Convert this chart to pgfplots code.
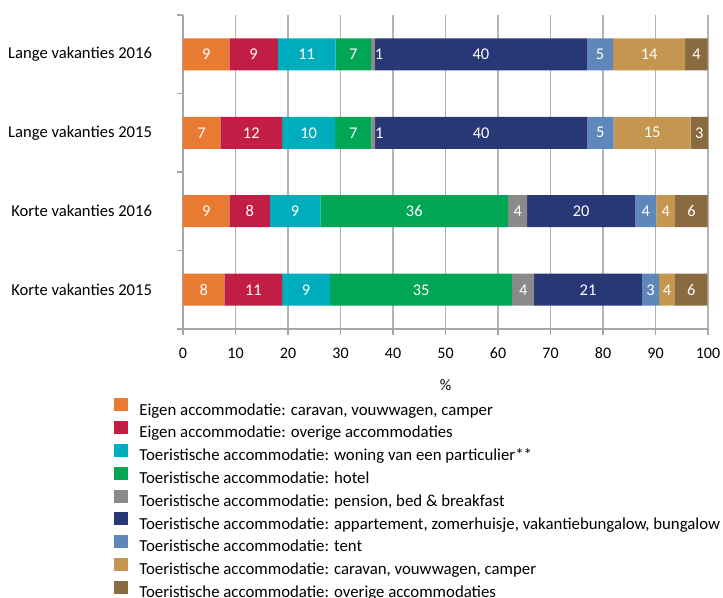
\documentclass[border=0pt]{standalone}
\usepackage{pgfplots}
\pgfplotsset{compat=1.18}
\usepackage{fontspec}
\setmainfont{Carlito}
\definecolor{c1}{HTML}{E97A31}
\definecolor{c2}{HTML}{C21E45}
\definecolor{c3}{HTML}{00ADBC}
\definecolor{c4}{HTML}{00A654}
\definecolor{c5}{HTML}{8A8A8A}
\definecolor{c6}{HTML}{283776}
\definecolor{c7}{HTML}{5F87BA}
\definecolor{c8}{HTML}{C4964F}
\definecolor{c9}{HTML}{8A6A3F}
\definecolor{axgray}{HTML}{A6A6A6}
\definecolor{gridgray}{HTML}{B4B4B4}
\pgfplotsset{sq/.style={fill=#1, draw=none, legend image code/.code={\fill[#1] (0pt,-0.3pt) rectangle (7pt,6.2pt);}}}
\begin{document}
\begin{tikzpicture}
\useasboundingbox (-91.5pt,-134.5pt) rectangle (270pt,164.5pt);
\begin{axis}[
  at={(0,0)}, anchor=south west,
  scale only axis, width=262.5pt, height=157pt,
  xbar stacked, bar width=16pt,
  xmin=0, xmax=100, ymin=-0.5, ymax=3.5,
  xtick={0,10,...,100},
  ytick={-0.5,0.5,1.5,2.5,3.5}, yticklabels={},
  extra y ticks={0,1,2,3},
  extra y tick labels={Korte vakanties 2015, Korte vakanties 2016, Lange vakanties 2015, Lange vakanties 2016},
  extra y tick style={major tick length=0pt, yticklabel style={font=\fontsize{8.3}{10}\selectfont, xshift=-12pt, text=black}},
  axis x line*=bottom, axis y line*=left,
  axis line style={draw=axgray, line width=0.7pt},
  tick style={draw=axgray, line width=0.7pt},
  major tick length=3pt, tick align=outside,
  xmajorgrids, major grid style={draw=gridgray, line width=0.7pt},
  xticklabel style={font=\fontsize{8}{9}\selectfont, yshift=-3pt, text=black},
  /pgf/number format/assume math mode=true,
  xlabel={\%},
  xlabel style={at={(axis description cs:0.5,0)}, anchor=center, yshift=-28pt, font=\fontsize{8}{9}\selectfont},
  nodes near coords, point meta=explicit symbolic,
  visualization depends on={rawx \as \rawx},
  every node near coord/.append style={anchor=center, xshift={(\rawx<1)*3pt}, text=white, font=\fontsize{8.2}{9}\selectfont},
  legend cell align=left,
  legend style={at={(axis description cs:-0.1314,-0.2196)}, anchor=north west, draw=none, fill=none, inner sep=0pt,
    font=\fontsize{8.4}{9.6}\selectfont, row sep=1.4pt,
    nodes={inner sep=0pt, text height=6pt, text depth=1.6pt, anchor=west},
    /tikz/every odd column/.append style={column sep=5.5pt}},
]
\addplot[sq=c1] coordinates {(7.9,0)[8] (8.85,1)[9] (7.1,2)[7] (8.85,3)[9]};
\addplot[sq=c2] coordinates {(11.0,0)[11] (7.7,1)[8] (11.8,2)[12] (9.2,3)[9]};
\addplot[sq=c3] coordinates {(9.1,0)[9] (9.6,1)[9] (10.1,2)[10] (11.0,3)[11]};
\addplot[sq=c4] coordinates {(34.7,0)[35] (35.8,1)[36] (6.9,2)[7] (6.8,3)[7]};
\addplot[sq=c5] coordinates {(4.2,0)[4] (3.6,1)[4] (0.7,2)[1] (0.7,3)[1]};
\addplot[sq=c6] coordinates {(20.5,0)[21] (20.6,1)[20] (40.4,2)[40] (40.4,3)[40]};
\addplot[sq=c7] coordinates {(3.3,0)[3] (4.0,1)[4] (5.0,2)[5] (5.0,3)[5]};
\addplot[sq=c8] coordinates {(3.0,0)[4] (3.6,1)[4] (14.7,2)[15] (13.7,3)[14]};
\addplot[sq=c9] coordinates {(6.2,0)[6] (6.2,1)[6] (3.3,2)[3] (4.3,3)[4]};
\legend{{Eigen accommodatie: caravan, vouwwagen, camper},
{Eigen accommodatie: overige accommodaties},
{Toeristische accommodatie: woning van een particulier**},
{Toeristische accommodatie: hotel},
{Toeristische accommodatie: pension, bed \& breakfast},
{Toeristische accommodatie: appartement, zomerhuisje, vakantiebungalow, bungalow},
{Toeristische accommodatie: tent},
{Toeristische accommodatie: caravan, vouwwagen, camper},
{Toeristische accommodatie: overige accommodaties}}
\end{axis}
\end{tikzpicture}
\end{document}
